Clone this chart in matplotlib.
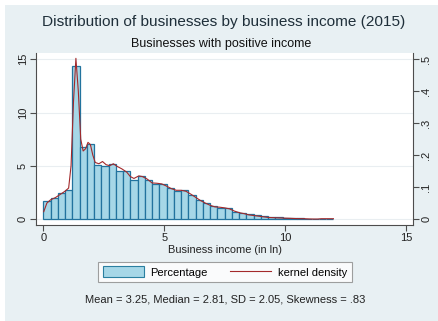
import numpy as np
import matplotlib
matplotlib.use("Agg")
import matplotlib.pyplot as plt
from matplotlib.patches import Patch, Rectangle
from matplotlib.lines import Line2D

plt.rcParams['font.family'] = ['Liberation Sans', 'DejaVu Sans']

# Histogram of log business income: bin width 0.3 starting at 0
bin_start = 0.0
bin_width = 0.3
pct = [1.66, 2.0, 2.4, 2.75, 14.4, 6.75, 7.0, 5.06, 5.0, 5.2,
       4.5, 4.5, 3.65, 4.05, 3.65, 3.25, 3.3, 2.95, 2.65, 2.7,
       2.25, 1.8, 1.5, 1.2, 1.05, 1.0, 0.7, 0.6, 0.47, 0.37,
       0.3, 0.22, 0.16, 0.12, 0.08, 0.06, 0.05, 0.04, 0.0, 0.04]

# Kernel density estimate (density scale, right axis)
kde_x = [0.02, 0.15, 0.3, 0.5, 0.7, 0.9, 1.05, 1.15, 1.25, 1.35,
         1.45, 1.55, 1.65, 1.75, 1.85, 1.95, 2.05, 2.15, 2.3, 2.45,
         2.6, 2.75, 2.9, 3.05, 3.25, 3.45, 3.6, 3.75, 3.95, 4.1,
         4.3, 4.5, 4.7, 4.9, 5.1, 5.3, 5.5, 5.7, 5.9, 6.1,
         6.3, 6.5, 6.7, 6.9, 7.1, 7.3, 7.5, 7.7, 7.9, 8.1,
         8.3, 8.5, 8.7, 8.9, 9.1, 9.3, 9.6, 9.9, 10.2, 10.5,
         10.8, 11.0, 11.2, 11.35, 11.5, 12.0]
kde_y = [0.023, 0.05, 0.06, 0.067, 0.077, 0.087, 0.097, 0.167, 0.367, 0.503,
         0.4, 0.25, 0.213, 0.22, 0.24, 0.233, 0.2, 0.177, 0.173, 0.18,
         0.17, 0.167, 0.173, 0.165, 0.157, 0.147, 0.133, 0.127, 0.135, 0.133,
         0.125, 0.113, 0.112, 0.11, 0.103, 0.095, 0.09, 0.09, 0.087, 0.078,
         0.068, 0.058, 0.05, 0.043, 0.038, 0.037, 0.035, 0.032, 0.025, 0.02,
         0.017, 0.013, 0.011, 0.009, 0.007, 0.005, 0.004, 0.003, 0.0023, 0.0013,
         0.001, 0.0003, 0.0, 0.0, 0.001, 0.001]

x_ticks = [0, 5, 10, 15]
y_ticks = [0, 5, 10, 15]
dens_ticks = [0, 0.1, 0.2, 0.3, 0.4, 0.5]
dens_labels = ["0", ".1", ".2", ".3", ".4", ".5"]

title = "Distribution of businesses by business income (2015)"
subtitle = "Businesses with positive income"
xlabel = "Business income (in ln)"
note = "Mean = 3.25, Median = 2.81, SD = 2.05, Skewness = .83"

W, H = 438, 321
fig = plt.figure(figsize=(W / 100, H / 100), dpi=100, facecolor='white')
# graph region background, kept behind the axes
bg = Rectangle((5 / W, 0), 1 - 5 / W, 1 - 5 / H, transform=fig.transFigure,
               facecolor='#e8f0f3', edgecolor='none', zorder=-10)
fig.add_artist(bg)

left, right, top, bottom = 36 / W, 413 / W, 1 - 53 / H, 1 - 225 / H
ax = fig.add_axes([left, bottom, right - left, top - bottom])
ax.set_facecolor('white')

edges = bin_start + bin_width * np.arange(len(pct))
bar_fill = '#a6d7e7'
bar_edge = '#22739e'
ax.bar(edges, pct, width=bin_width, align='edge', color=bar_fill,
       edgecolor=bar_edge, linewidth=0.9, zorder=2)

ax.set_xlim(-0.30, 15.29)
ax.set_ylim(-0.56, 15.59)
ax.set_xticks(x_ticks)
ax.set_yticks(y_ticks)
ax.set_yticklabels([str(v) for v in y_ticks], rotation=90, va='center')
for v in y_ticks:
    ax.axhline(v, color='#e9eef1', linewidth=0.8, zorder=1)

spine_col = '#4d4d4d'
tick_fs = 8.0
for s in ['left', 'bottom']:
    ax.spines[s].set_color(spine_col)
    ax.spines[s].set_linewidth(0.8)
ax.spines['top'].set_visible(False)
ax.spines['right'].set_visible(False)
ax.tick_params(axis='both', colors=spine_col, labelcolor='#222222',
               labelsize=tick_fs, length=4, width=0.8, pad=2)

ax2 = ax.twinx()
ax2.plot(kde_x, kde_y, color='#a3292b', linewidth=0.8, zorder=3)
ax2.set_ylim(-0.56 / 30, 15.59 / 30)
ax2.set_yticks(dens_ticks)
ax2.set_yticklabels(dens_labels, rotation=90, va='center')
ax2.spines['right'].set_color(spine_col)
ax2.spines['right'].set_linewidth(0.8)
for s in ['top', 'left', 'bottom']:
    ax2.spines[s].set_visible(False)
ax2.tick_params(axis='y', colors=spine_col, labelcolor='#222222',
                labelsize=tick_fs, length=4, width=0.8, pad=2)

ax.set_xlabel(xlabel, fontsize=7.9, color='#222222', labelpad=1)

fig.text(224 / W, 1 - 22 / H, title, ha='center', va='center',
         fontsize=11.1, color='#1f2f3a')
fig.text(221 / W, 1 - 44 / H, subtitle, ha='center', va='center',
         fontsize=9.0, color='#111111')

handles = [Patch(facecolor=bar_fill, edgecolor='#2a7fa0', linewidth=0.8),
           Line2D([0], [0], color='#a3292b', linewidth=0.8)]
leg = fig.legend(handles, ['Percentage', 'kernel density'], ncol=2,
                 loc='center', bbox_to_anchor=(225 / W, 1 - 272 / H),
                 fontsize=8.0, frameon=True, fancybox=False,
                 handlelength=3.7, handleheight=1.1, columnspacing=2.0,
                 handletextpad=0.6, borderpad=0.4, borderaxespad=0)
leg.get_frame().set_edgecolor('#888888')
leg.get_frame().set_linewidth(0.8)
leg.get_frame().set_facecolor('white')

fig.text(225 / W, 1 - 299 / H, note, ha='center', va='center',
         fontsize=8.0, color='#222222')

fig.savefig('out.png', dpi=100, facecolor=fig.get_facecolor())
